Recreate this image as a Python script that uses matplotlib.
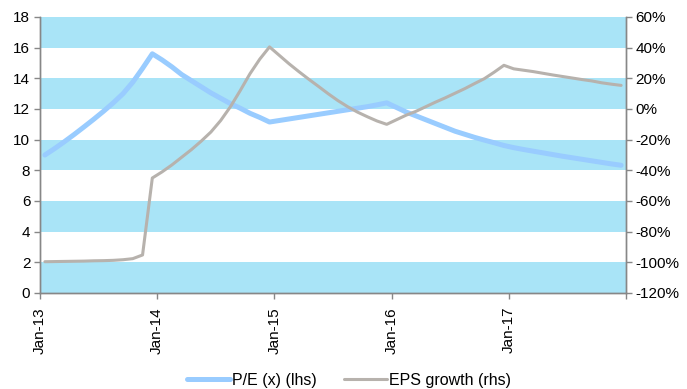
import numpy as np
import matplotlib
matplotlib.use("Agg")
import matplotlib.pyplot as plt

plt.rcParams["font.family"] = ["Liberation Sans", "DejaVu Sans"]
plt.rcParams["font.size"] = 11

# monthly series, Jan-13 .. Dec-17
pe = [9.0, 9.42, 9.87, 10.34, 10.83, 11.33, 11.85, 12.4, 13.0, 13.75, 14.65, 15.6,
      15.2, 14.75, 14.25, 13.85, 13.45, 13.05, 12.7, 12.35, 12.05, 11.72, 11.45, 11.15,
      11.25, 11.35, 11.45, 11.55, 11.65, 11.75, 11.85, 11.95, 12.05, 12.15, 12.27, 12.4,
      12.1, 11.8, 11.55, 11.3, 11.05, 10.8, 10.55, 10.35, 10.15, 9.97, 9.8, 9.62,
      9.48, 9.36, 9.25, 9.14, 9.03, 8.92, 8.82, 8.72, 8.62, 8.52, 8.42, 8.33]
eps_growth = [-99.6, -99.5, -99.4, -99.3, -99.2, -99.0, -98.9, -98.7, -98.3, -97.6, -95.2, -45.0,
              -41.0, -36.5, -31.5, -26.5, -21.0, -15.0, -7.5, 1.5, 12.0, 23.0, 32.5, 40.5,
              35.0, 29.5, 24.4, 19.5, 14.8, 10.0, 5.5, 1.5, -2.0, -5.0, -7.8, -10.0,
              -7.0, -4.0, -1.5, 1.5, 4.5, 7.3, 10.3, 13.3, 16.6, 19.8, 24.0, 28.5,
              26.2, 25.3, 24.4, 23.3, 22.2, 21.2, 20.2, 19.2, 18.3, 17.1, 16.2, 15.4]
year_labels = ["Jan-13", "Jan-14", "Jan-15", "Jan-16", "Jan-17", ""]
pe_ticks = list(range(0, 19, 2))
eps_ticks = list(range(-120, 61, 20))

months = np.arange(len(pe)) + 0.5

fig = plt.figure(figsize=(6.87, 3.89), dpi=100)
ax = fig.add_axes([40 / 687, 1 - 293 / 389, (626 - 40) / 687, (293 - 17) / 389])
ax2 = ax.twinx()

spine_col = "#878787"

# alternating horizontal bands
for lo in range(0, 18, 4):
    ax.axhspan(lo, lo + 2, color="#a9e4f7", lw=0, zorder=0)

l1, = ax.plot(months, pe, color="#99ccff", lw=3.6, solid_capstyle="round",
              solid_joinstyle="round", zorder=3)
l2, = ax2.plot(months, eps_growth, color="#b7b2ad", lw=2.2, solid_capstyle="round",
               solid_joinstyle="round", zorder=3)

ax.set_xlim(0, 60)
ax.set_ylim(0, 18)
ax.set_yticks(pe_ticks)
ax.set_xticks(np.arange(0, 61, 12))
ax.set_xticklabels(year_labels, rotation=90)

ax2.set_ylim(-120, 60)
ax2.set_yticks(eps_ticks)
ax2.set_yticklabels([f"{v}%" for v in eps_ticks])

for a in (ax, ax2):
    a.spines["top"].set_visible(False)
    for s in ("left", "right", "bottom"):
        a.spines[s].set_color(spine_col)
        a.spines[s].set_linewidth(1.0)
    a.tick_params(colors=spine_col, labelcolor="black", length=4, width=1.0,
                  direction="out", labelsize=11, pad=3)
ax.tick_params(axis="x", labelsize=11, pad=6)

fig.legend([l1, l2], ["P/E (x) (lhs)", "EPS growth (rhs)"], loc="center",
           bbox_to_anchor=(0.508, 1 - 380 / 389), ncol=2, frameon=False,
           handlelength=2.7, handletextpad=0.15, columnspacing=1.7, fontsize=11.5)

fig.savefig("out.png", dpi=100)
